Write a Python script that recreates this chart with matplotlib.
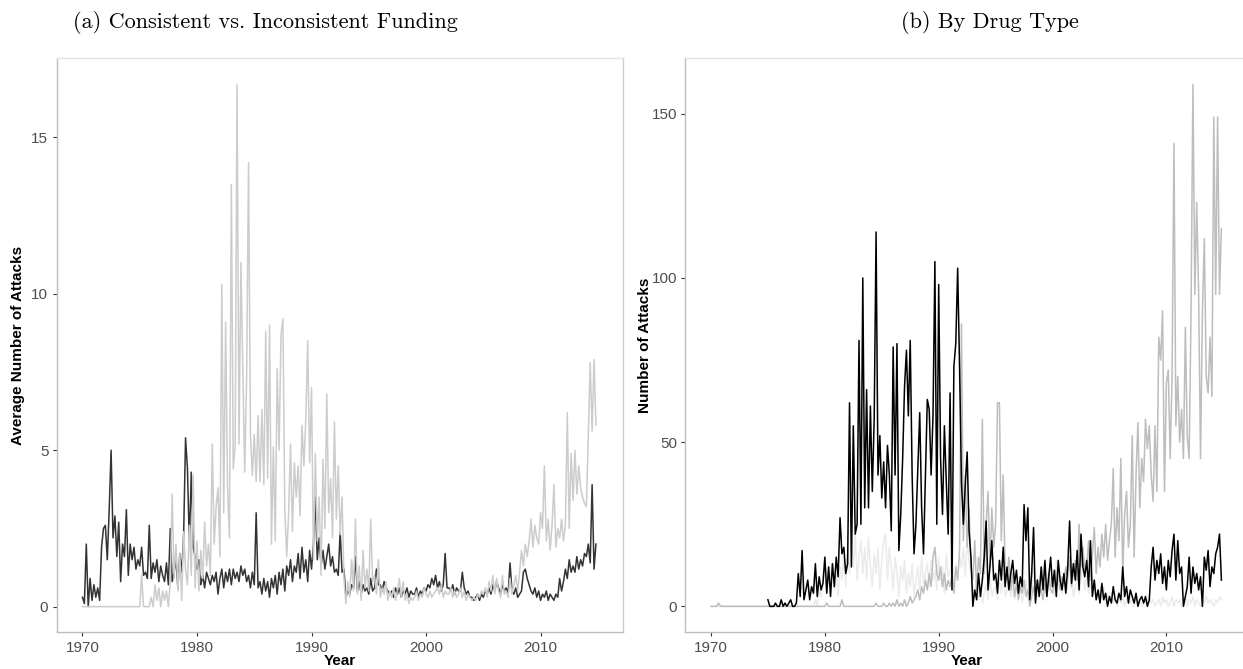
import numpy as np
import matplotlib
matplotlib.use("Agg")
import matplotlib.pyplot as plt

# values, 6 points per year (bi-monthly)
steps_per_year = 6

# (a) consistent vs. inconsistent funding, 1970-2014
consistent = [
    0.3, 0.1, 2.0, 0.0, 0.9, 0.2,   # 1970
    0.7, 0.3, 0.6, 0.2, 1.9, 2.5,   # 1971
    2.6, 1.5, 3.1, 5.0, 2.2, 2.9,   # 1972
    1.6, 2.7, 0.8, 2.0, 1.6, 3.1,   # 1973
    1.0, 2.0, 1.5, 1.9, 1.2, 1.5,   # 1974
    1.3, 1.9, 1.0, 1.1, 0.9, 2.6,   # 1975
    0.9, 1.4, 1.1, 1.5, 0.8, 1.3,   # 1976
    1.0, 0.8, 1.4, 0.7, 2.5, 0.8,   # 1977
    1.1, 1.5, 0.6, 1.7, 1.1, 2.3,   # 1978
    5.4, 4.4, 2.0, 4.3, 1.9, 1.6,   # 1979
    1.2, 1.5, 0.7, 1.0, 0.6, 1.1,   # 1980
    0.9, 0.7, 1.0, 0.8, 1.1, 0.4,   # 1981
    0.9, 1.2, 0.6, 1.1, 0.8, 1.2,   # 1982
    0.7, 1.2, 0.9, 1.1, 0.8, 1.3,   # 1983
    1.0, 1.2, 0.8, 1.0, 0.6, 1.1,   # 1984
    0.7, 3.0, 0.6, 0.8, 0.4, 0.9,   # 1985
    0.5, 0.8, 0.3, 0.9, 0.6, 1.0,   # 1986
    0.4, 1.1, 0.7, 1.2, 0.5, 1.3,   # 1987
    1.0, 1.5, 0.8, 1.3, 1.1, 1.7,   # 1988
    0.9, 1.9, 1.1, 1.5, 0.8, 1.8,   # 1989
    1.2, 2.0, 3.5, 1.5, 2.2, 1.3,   # 1990
    1.8, 1.2, 1.6, 2.0, 1.3, 1.6,   # 1991
    1.1, 1.2, 1.0, 2.4, 1.1, 1.2,   # 1992
    0.3, 0.5, 0.4, 0.7, 0.6, 1.6,   # 1993
    0.5, 0.8, 0.4, 0.7, 0.5, 0.6,   # 1994
    0.4, 0.9, 0.5, 0.6, 1.2, 0.7,   # 1995
    0.7, 0.5, 0.8, 0.6, 0.5, 0.4,   # 1996
    0.5, 0.3, 0.6, 0.4, 0.6, 0.3,   # 1997
    0.5, 0.4, 0.6, 0.3, 0.5, 0.4,   # 1998
    0.4, 0.6, 0.3, 0.5, 0.4, 0.6,   # 1999
    0.5, 0.7, 0.6, 0.9, 0.7, 1.0,   # 2000
    0.6, 0.8, 0.5, 0.7, 1.7, 0.6,   # 2001
    0.6, 0.5, 0.7, 0.4, 0.6, 0.5,   # 2002
    0.5, 1.1, 0.6, 0.4, 0.5, 0.3,   # 2003
    0.3, 0.2, 0.3, 0.4, 0.2, 0.4,   # 2004
    0.3, 0.5, 0.4, 0.6, 0.4, 0.7,   # 2005
    0.5, 0.8, 0.6, 0.4, 0.7, 0.5,   # 2006
    0.6, 0.4, 1.4, 0.5, 0.4, 0.6,   # 2007
    0.3, 0.4, 0.5, 1.1, 1.2, 0.9,   # 2008
    0.7, 0.5, 0.4, 0.6, 0.3, 0.5,   # 2009
    0.2, 0.4, 0.3, 0.5, 0.2, 0.4,   # 2010
    0.3, 0.2, 0.4, 0.3, 0.9, 0.5,   # 2011
    0.8, 1.2, 0.9, 1.5, 1.1, 1.3,   # 2012
    1.1, 1.6, 1.2, 1.5, 1.3, 1.7,   # 2013
    1.6, 2.0, 1.4, 3.9, 1.2, 2.0,   # 2014
]

inconsistent = [
    0.0, 0.0, 0.0, 0.0, 0.0, 0.0,   # 1970
    0.0, 0.0, 0.0, 0.0, 0.0, 0.0,   # 1971
    0.0, 0.0, 0.0, 0.0, 0.0, 0.0,   # 1972
    0.0, 0.0, 0.0, 0.0, 0.0, 0.0,   # 1973
    0.0, 0.0, 0.0, 0.0, 0.0, 0.0,   # 1974
    0.0, 1.0, 0.0, 0.0, 0.0, 0.0,   # 1975
    0.3, 0.0, 0.7, 0.2, 0.6, 0.0,   # 1976
    0.5, 0.2, 0.5, 0.0, 0.8, 3.6,   # 1977
    0.9, 2.0, 0.5, 1.7, 0.2, 2.4,   # 1978
    1.2, 0.7, 2.6, 1.0, 4.2, 0.6,   # 1979
    2.1, 0.5, 1.8, 0.9, 2.7, 1.3,   # 1980
    2.0, 1.0, 5.2, 2.0, 3.2, 3.8,   # 1981
    1.6, 10.3, 3.0, 9.1, 3.8, 2.2,  # 1982
    13.5, 4.4, 5.2, 16.7, 5.2, 11.0,  # 1983
    7.7, 4.3, 7.3, 14.2, 5.5, 4.2,  # 1984
    5.5, 4.0, 6.1, 4.0, 6.3, 3.9,   # 1985
    8.8, 4.1, 9.0, 2.0, 5.1, 2.1,   # 1986
    7.6, 5.0, 8.7, 9.2, 3.1, 1.6,   # 1987
    3.0, 5.2, 2.4, 4.6, 3.5, 4.5,   # 1988
    2.9, 5.8, 4.5, 6.0, 8.5, 4.6,   # 1989
    7.0, 1.5, 4.9, 2.1, 3.5, 1.0,   # 1990
    4.7, 2.5, 6.8, 3.0, 4.1, 2.2,   # 1991
    5.9, 2.8, 4.5, 2.3, 3.5, 0.9,   # 1992
    0.1, 0.8, 0.3, 1.5, 0.5, 2.8,   # 1993
    0.4, 1.3, 0.2, 1.8, 0.6, 1.2,   # 1994
    0.5, 2.8, 0.8, 1.0, 0.4, 1.5,   # 1995
    0.3, 0.6, 0.4, 0.8, 0.2, 0.5,   # 1996
    0.3, 0.6, 0.2, 0.5, 0.9, 0.3,   # 1997
    0.8, 0.2, 0.4, 0.1, 0.3, 0.2,   # 1998
    0.3, 0.5, 0.2, 0.4, 0.3, 0.6,   # 1999
    0.4, 0.3, 0.5, 0.3, 0.4, 0.5,   # 2000
    0.6, 0.4, 0.7, 0.3, 0.5, 0.4,   # 2001
    0.4, 0.6, 0.3, 0.5, 0.3, 0.4,   # 2002
    0.6, 0.3, 0.5, 0.2, 0.4, 0.3,   # 2003
    0.2, 0.3, 0.2, 0.4, 0.3, 0.5,   # 2004
    0.4, 0.6, 0.3, 0.8, 0.5, 1.0,   # 2005
    0.4, 0.9, 0.5, 0.3, 1.0, 0.4,   # 2006
    0.5, 0.3, 0.9, 0.4, 0.7, 1.0,   # 2007
    0.5, 1.1, 1.8, 1.3, 2.0, 1.6,   # 2008
    2.1, 2.8, 1.9, 2.6, 2.2, 2.0,   # 2009
    3.0, 2.5, 4.5, 2.1, 2.8, 1.8,   # 2010
    2.6, 3.9, 1.9, 2.5, 2.2, 2.8,   # 2011
    2.1, 2.6, 6.2, 2.5, 4.9, 3.4,   # 2012
    5.0, 3.6, 4.5, 3.8, 3.5, 3.3,   # 2013
    3.2, 5.5, 7.8, 5.6, 7.9, 5.8,   # 2014
]

# (b) by drug type; the black series starts in 1975
black_start = 1975
drug_black = [
    2, 0, 0, 0, 1, 0,          # 1975
    0, 2, 0, 1, 0, 1,          # 1976
    2, 0, 0, 1, 10, 3,         # 1977
    17, 2, 5, 8, 2, 6,         # 1978
    4, 13, 3, 9, 5, 7,         # 1979
    15, 4, 12, 3, 13, 6,       # 1980
    15, 9, 27, 16, 18, 10,     # 1981
    13, 62, 12, 55, 22, 25,    # 1982
    81, 25, 100, 30, 66, 30,   # 1983
    61, 35, 57, 114, 40, 52,   # 1984
    33, 44, 30, 49, 40, 23,    # 1985
    79, 40, 80, 17, 28, 45,    # 1986
    67, 78, 58, 81, 40, 16,    # 1987
    25, 42, 59, 30, 16, 40,    # 1988
    63, 60, 40, 58, 105, 25,   # 1989
    98, 45, 28, 55, 38, 22,    # 1990
    65, 5, 73, 80, 103, 73,    # 1991
    38, 25, 37, 47, 23, 15,    # 1992
    0, 5, 2, 10, 3, 8,         # 1993
    15, 26, 5, 12, 20, 8,      # 1994
    10, 4, 14, 8, 18, 6,       # 1995
    12, 5, 10, 14, 7, 11,      # 1996
    4, 9, 6, 31, 20, 30,       # 1997
    2, 10, 24, 1, 8, 3,        # 1998
    12, 5, 14, 3, 9, 15,       # 1999
    6, 11, 3, 14, 8, 5,        # 2000
    10, 4, 12, 26, 7, 13,      # 2001
    8, 17, 5, 22, 12, 9,       # 2002
    14, 6, 20, 3, 8, 2,        # 2003
    5, 1, 7, 2, 4, 0,          # 2004
    3, 1, 6, 2, 1, 4,          # 2005
    2, 12, 3, 6, 1, 5,         # 2006
    3, 1, 4, 0, 2, 3,          # 2007
    1, 3, 0, 2, 12, 18,        # 2008
    8, 14, 10, 16, 7, 12,      # 2009
    5, 14, 9, 17, 22, 8,       # 2010
    20, 10, 12, 0, 3, 6,       # 2011
    15, 4, 12, 7, 10, 5,       # 2012
    9, 0, 15, 11, 17, 6,       # 2013
    12, 10, 16, 18, 22, 8,     # 2014
]

drug_gray = [
    0, 0, 0, 0, 1, 0,          # 1970
    0, 0, 0, 0, 0, 0,          # 1971
    0, 0, 0, 0, 0, 0,          # 1972
    0, 0, 0, 0, 0, 0,          # 1973
    0, 0, 0, 0, 0, 0,          # 1974
    0, 0, 0, 0, 0, 0,          # 1975
    0, 0, 0, 0, 0, 0,          # 1976
    0, 0, 0, 0, 0, 0,          # 1977
    0, 0, 0, 0, 0, 0,          # 1978
    0, 0, 0, 0, 0, 0,          # 1979
    0, 1, 0, 0, 0, 0,          # 1980
    0, 0, 0, 2, 0, 0,          # 1981
    0, 0, 0, 0, 0, 0,          # 1982
    0, 0, 0, 0, 0, 0,          # 1983
    0, 0, 0, 1, 0, 0,          # 1984
    0, 1, 0, 0, 1, 0,          # 1985
    1, 0, 2, 0, 1, 0,          # 1986
    2, 0, 1, 3, 1, 2,          # 1987
    3, 5, 2, 6, 4, 8,          # 1988
    5, 10, 6, 15, 18, 10,      # 1989
    8, 12, 6, 10, 5, 8,        # 1990
    6, 10, 4, 12, 8, 17,       # 1991
    86, 20, 40, 18, 30, 12,    # 1992
    8, 20, 5, 15, 10, 57,      # 1993
    10, 25, 35, 12, 30, 18,    # 1994
    25, 62, 62, 20, 40, 12,    # 1995
    8, 15, 5, 10, 3, 7,        # 1996
    2, 6, 4, 8, 3, 5,          # 1997
    0, 3, 6, 2, 8, 4,          # 1998
    5, 2, 7, 3, 10, 5,         # 1999
    4, 8, 6, 12, 5, 9,         # 2000
    7, 12, 9, 15, 6, 10,       # 2001
    14, 8, 25, 12, 18, 10,     # 2002
    12, 20, 8, 16, 24, 10,     # 2003
    18, 12, 22, 15, 25, 14,    # 2004
    20, 25, 42, 15, 30, 20,    # 2005
    45, 10, 28, 35, 18, 25,    # 2006
    52, 15, 40, 56, 30, 45,    # 2007
    38, 57, 48, 55, 40, 32,    # 2008
    55, 35, 82, 75, 90, 35,    # 2009
    68, 72, 45, 70, 141, 55,   # 2010
    70, 50, 60, 45, 85, 52,    # 2011
    45, 90, 159, 95, 123, 95,  # 2012
    45, 90, 112, 70, 65, 82,   # 2013
    64, 149, 95, 149, 95, 115, # 2014
]

drug_light = [
    0, 0, 0, 0, 0, 0,          # 1970
    0, 0, 0, 0, 0, 0,          # 1971
    0, 0, 0, 0, 0, 0,          # 1972
    0, 0, 0, 0, 0, 0,          # 1973
    0, 0, 0, 0, 0, 0,          # 1974
    0, 0, 0, 0, 0, 0,          # 1975
    0, 0, 0, 0, 0, 0,          # 1976
    0, 0, 0, 0, 0, 0,          # 1977
    0, 0, 0, 0, 0, 0,          # 1978
    0, 2, 0, 5, 3, 8,          # 1979
    15, 6, 12, 8, 14, 5,       # 1980
    10, 3, 12, 8, 15, 6,       # 1981
    18, 10, 20, 12, 22, 8,     # 1982
    15, 20, 10, 18, 8, 21,     # 1983
    12, 6, 16, 10, 18, 5,      # 1984
    14, 20, 22, 8, 18, 12,     # 1985
    5, 15, 10, 3, 12, 8,       # 1986
    14, 4, 10, 6, 13, 3,       # 1987
    8, 12, 5, 15, 7, 10,       # 1988
    13, 6, 14, 8, 11, 5,       # 1989
    15, 8, 12, 4, 16, 9,       # 1990
    10, 17, 6, 13, 8, 15,      # 1991
    12, 18, 9, 20, 14, 10,     # 1992
    6, 3, 8, 2, 5, 1,          # 1993
    4, 7, 2, 9, 3, 5,          # 1994
    6, 2, 8, 4, 10, 3,         # 1995
    5, 9, 3, 7, 2, 6,          # 1996
    3, 6, 1, 5, 8, 2,          # 1997
    10, 4, 12, 6, 3, 8,        # 1998
    5, 13, 7, 4, 11, 6,        # 1999
    8, 3, 14, 6, 9, 4,         # 2000
    7, 12, 5, 15, 8, 3,        # 2001
    6, 10, 4, 8, 13, 5,        # 2002
    9, 4, 7, 3, 6, 2,          # 2003
    3, 5, 2, 6, 1, 4,          # 2004
    2, 4, 1, 3, 0, 2,          # 2005
    1, 3, 0, 2, 4, 1,          # 2006
    2, 0, 3, 1, 2, 0,          # 2007
    1, 2, 0, 3, 1, 2,          # 2008
    0, 1, 2, 0, 3, 1,          # 2009
    2, 0, 1, 3, 0, 2,          # 2010
    1, 2, 0, 1, 3, 0,          # 2011
    2, 1, 3, 0, 2, 1,          # 2012
    0, 2, 1, 3, 1, 2,          # 2013
    1, 0, 2, 1, 3, 2,          # 2014
]


def years(values, start=1970):
    return start + np.arange(len(values)) / steps_per_year


W, H = 1243, 669
fig = plt.figure(figsize=(W / 100, H / 100), dpi=100)
tick_font = dict(family="Liberation Sans", size=11, color="#4d4d4d")
label_font = dict(family="Liberation Sans", size=11, weight="bold", color="black")


def style_axes(ax):
    ax.set_facecolor("white")
    for side in ["left", "bottom"]:
        ax.spines[side].set_color("#bdbdbd")
    ax.spines["right"].set_color("#cccccc")
    ax.spines["top"].set_color("#e3e3e3")
    for s in ax.spines.values():
        s.set_linewidth(1.0)
    ax.tick_params(length=3, width=0.8, color="#333333", pad=3)
    ax.set_xlim(1967.75, 2017.17)
    ax.set_xticks([1970, 1980, 1990, 2000, 2010])
    for lab in ax.get_xticklabels() + ax.get_yticklabels():
        lab.set_fontfamily(tick_font["family"])
        lab.set_fontsize(tick_font["size"])
        lab.set_color(tick_font["color"])


# panel (a)
ax1 = fig.add_axes([56.7 / W, 1 - 632.3 / H, 566 / W, 574 / H])
ax1.plot(years(consistent), consistent, color="#333333", lw=1.1)
ax1.plot(years(inconsistent), inconsistent, color="#cccccc", lw=1.1)
ax1.set_ylim(-0.82, 17.53)
ax1.set_yticks([0, 5, 10, 15])
style_axes(ax1)

# panel (b)
ax2 = fig.add_axes([685.4 / W, 1 - 632.3 / H, 562.6 / W, 574 / H])
ax2.plot(years(drug_light), drug_light, color="#ebebeb", lw=1.1)
ax2.plot(years(drug_gray), drug_gray, color="#bdbdbd", lw=1.1)
ax2.plot(years(drug_black, black_start), drug_black, color="black", lw=1.1)
ax2.set_ylim(-7.9, 166.9)
ax2.set_yticks([0, 50, 100, 150])
style_axes(ax2)

# titles (LaTeX-style subcaptions)
fig.text(265 / W, 1 - 22 / H, "(a) Consistent vs. Inconsistent Funding",
         family="cmr10", size=16, ha="center", va="center")
fig.text(990 / W, 1 - 22 / H, "(b) By Drug Type",
         family="cmr10", size=16, ha="center", va="center")

# axis labels
fig.text(339.7 / W, 1 - 661 / H, "Year", ha="center", va="center", **label_font)
fig.text(966.7 / W, 1 - 661 / H, "Year", ha="center", va="center", **label_font)
fig.text(18 / W, 1 - 345 / H, "Average Number of Attacks", rotation=90,
         ha="center", va="center", **label_font)
fig.text(645 / W, 1 - 345 / H, "Number of Attacks", rotation=90,
         ha="center", va="center", **label_font)

fig.savefig("out.png", dpi=100)
